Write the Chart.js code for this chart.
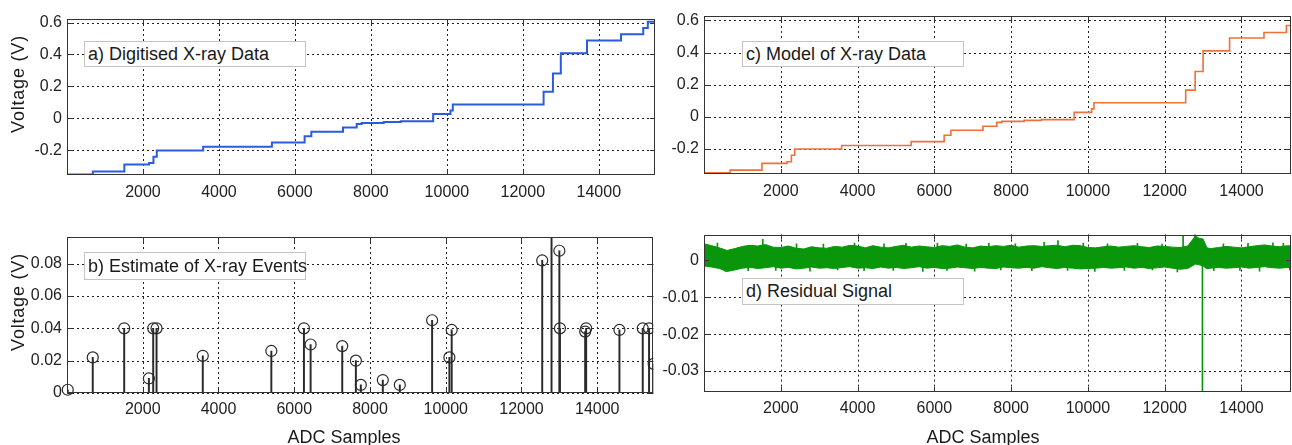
<!DOCTYPE html>
<html><head><meta charset="utf-8">
<script src="https://cdn.jsdelivr.net/npm/chart.js@4.4.0/dist/chart.umd.min.js"></script>
<style>
html,body{margin:0;padding:0;background:#fff;overflow:hidden;width:1292px;height:445px;position:relative;}
canvas{position:absolute;}
.t{position:absolute;font-family:'Liberation Sans',Arial,sans-serif;color:#1a1a1a;white-space:nowrap;font-size:18px;line-height:20px;}
.vt{transform:translate(-50%,-50%) rotate(-90deg);letter-spacing:0.8px;}
.ht{transform:translate(-50%,-50%);}
.box{position:absolute;border:1px solid #c4c4c4;background:#fff;font-family:'Liberation Sans',Arial,sans-serif;font-size:18px;color:#1a1a1a;box-sizing:border-box;padding-left:3px;white-space:nowrap;}
</style></head><body>
<canvas id="ca"></canvas>
<canvas id="cb"></canvas>
<canvas id="cc"></canvas>
<canvas id="cd"></canvas>
<div class="t vt" style="left:18px;top:84px;">Voltage (V)</div>
<div class="t vt" style="left:18px;top:302px;">Voltage (V)</div>
<div class="t ht" style="left:344px;top:437px;">ADC Samples</div>
<div class="t ht" style="left:983px;top:437px;">ADC Samples</div>
<div class="box" style="left:84px;top:41px;width:222px;height:26px;line-height:24px;">a) Digitised X-ray Data</div>
<div class="box" style="left:84px;top:252px;width:222px;height:28px;line-height:26px;">b) Estimate of X-ray Events</div>
<div class="box" style="left:742px;top:41px;width:222px;height:26px;line-height:24px;">c) Model of X-ray Data</div>
<div class="box" style="left:742px;top:278px;width:222px;height:27px;line-height:25px;">d) Residual Signal</div>
<script>
// ---------- data ----------
const xTicks = [2000, 4000, 6000, 8000, 10000, 12000, 14000];
const yTicksVolt = [-0.2, 0, 0.2, 0.4, 0.6];
const yTicksEvents = [0, 0.02, 0.04, 0.06, 0.08];
const yTicksResidual = [-0.03, -0.02, -0.01, 0];

// staircase (value holds from stepX[i] onwards)
const stepX      = [0, 680, 1510, 2160, 2276, 2364, 3585, 5395, 6256, 6432, 7267, 7627, 7758, 8338, 8787, 9640, 10096, 10157, 12547, 12793, 13000, 13690, 14586, 15170, 15290, 15480, 15500];
const digitisedY = [-0.352, -0.333, -0.290, -0.280, -0.240, -0.202, -0.178, -0.152, -0.113, -0.084, -0.057, -0.036, -0.030, -0.023, -0.018, 0.027, 0.049, 0.086, 0.166, 0.280, 0.408, 0.488, 0.527, 0.566, 0.604, 0.620, 0.620];
const modelY     = [-0.348, -0.331, -0.289, -0.279, -0.238, -0.200, -0.178, -0.154, -0.114, -0.083, -0.058, -0.034, -0.028, -0.022, -0.017, 0.028, 0.050, 0.088, 0.166, 0.282, 0.410, 0.490, 0.524, 0.568, 0.604, 0.622, 0.622];

// estimated events (stem plot)
const eventX = [20, 680, 1510, 2162, 2276, 2364, 3585, 5395, 6256, 6432, 7267, 7627, 7758, 8338, 8787, 9640, 10096, 10157, 12547, 12793, 13000, 13015, 13681, 13707, 14586, 15201, 15368, 15490];
const eventY = [0.002, 0.022, 0.040, 0.009, 0.040, 0.040, 0.023, 0.026, 0.040, 0.030, 0.029, 0.020, 0.005, 0.008, 0.005, 0.045, 0.022, 0.039, 0.082, 0.115, 0.088, 0.040, 0.038, 0.040, 0.039, 0.040, 0.040, 0.018];

// residual envelope
const resX = [0,200,400,600,800,1000,1200,1400,1600,1800,2000,2200,2400,2600,2800,3000,3200,3400,3600,3800,4000,4200,4400,4600,4800,5000,5200,5400,5600,5800,6000,6200,6400,6600,6800,7000,7200,7400,7600,7800,8000,8200,8400,8600,8800,9000,9200,9400,9600,9800,10000,10200,10400,10600,10800,11000,11200,11400,11600,11800,12000,12200,12400,12600,12800,12900,13000,13100,13200,13400,13600,13800,14000,14200,14400,14600,14800,15000,15200,15400,15500];
const resUpper = [0.0045,0.0040,0.0034,0.0027,0.0032,0.0038,0.0041,0.0039,0.0043,0.0036,0.0035,0.0039,0.0033,0.0031,0.0037,0.0034,0.0033,0.0038,0.0036,0.0041,0.0039,0.0034,0.0040,0.0036,0.0034,0.0038,0.0041,0.0036,0.0039,0.0037,0.0035,0.0040,0.0038,0.0042,0.0036,0.0034,0.0039,0.0037,0.0040,0.0038,0.0041,0.0036,0.0039,0.0040,0.0038,0.0040,0.0041,0.0037,0.0041,0.0040,0.0035,0.0034,0.0037,0.0039,0.0036,0.0038,0.0040,0.0037,0.0035,0.0039,0.0038,0.0036,0.0035,0.0039,0.0066,0.0060,0.0058,0.0034,0.0032,0.0035,0.0038,0.0036,0.0034,0.0037,0.0040,0.0042,0.0039,0.0037,0.0040,0.0038,0.0037];
const resLower = [-0.0015,-0.0018,-0.0022,-0.0030,-0.0026,-0.0021,-0.0019,-0.0022,-0.0020,-0.0017,-0.0021,-0.0019,-0.0023,-0.0021,-0.0018,-0.0021,-0.0020,-0.0022,-0.0019,-0.0017,-0.0021,-0.0020,-0.0022,-0.0018,-0.0021,-0.0019,-0.0022,-0.0020,-0.0017,-0.0021,-0.0019,-0.0022,-0.0021,-0.0018,-0.0020,-0.0022,-0.0019,-0.0021,-0.0022,-0.0018,-0.0020,-0.0021,-0.0019,-0.0021,-0.0017,-0.0020,-0.0022,-0.0019,-0.0021,-0.0023,-0.0022,-0.0021,-0.0019,-0.0021,-0.0020,-0.0018,-0.0021,-0.0019,-0.0022,-0.0020,-0.0018,-0.0021,-0.0024,-0.0022,-0.0010,-0.0012,-0.0015,-0.0023,-0.0021,-0.0019,-0.0021,-0.0020,-0.0018,-0.0021,-0.0019,-0.0017,-0.0020,-0.0021,-0.0019,-0.0021,-0.0020];
// isolated spikes sticking out of the residual band
const spikeX    = [350, 560, 1150, 1530, 1870, 2410, 2760, 3110, 3480, 3920, 4170, 4690, 4930, 5260, 5700, 6080, 6330, 6830, 7050, 7420, 7730, 8110, 8540, 8860, 9220, 9470, 9880, 10180, 10510, 10950, 11290, 11680, 11930, 12330, 12480, 12790, 12983, 13280, 13530, 13960, 14170, 14470, 14820, 15090, 15260];
const spikeLow  = [0.002, -0.0030, -0.0028, 0.002, -0.0027, 0.002, -0.0029, 0.002, -0.0026, 0.002, -0.0028, 0.002, -0.0027, 0.002, -0.0030, 0.002, -0.0027, 0.002, -0.0029, 0.002, -0.0026, 0.002, -0.0028, 0.002, 0.002, -0.0027, 0.002, -0.0030, 0.002, -0.0027, 0.002, -0.0026, 0.002, -0.0031, 0.002, 0.002, -0.0400, -0.0028, 0.002, -0.0027, 0.002, -0.0029, 0.002, 0.002, -0.0026];
const spikeHigh = [0.0047, 0.000, 0.000, 0.0057, 0.000, 0.0045, 0.000, 0.0044, 0.000, 0.0047, 0.000, 0.0045, 0.000, 0.0046, 0.000, 0.0047, 0.000, 0.0044, 0.000, 0.0046, 0.000, 0.0045, 0.000, 0.0049, 0.0054, 0.000, 0.0047, 0.000, 0.0045, 0.000, 0.0046, 0.000, 0.0044, 0.000, 0.0068, 0.0080, 0.0040, 0.000, 0.0045, 0.000, 0.0046, 0.000, 0.0048, 0.0046, 0.000];

// ---------- setup ----------
Chart.defaults.font.family = "'Liberation Sans', Arial, sans-serif";
Chart.defaults.color = '#222';
Chart.defaults.animation = false;

const gridPlugin = {
  id: 'dotgrid',
  beforeDatasetsDraw(chart) {
    const {ctx, chartArea: a, scales: {x, y}} = chart;
    ctx.save();
    ctx.strokeStyle = '#222';
    ctx.lineWidth = 1;
    ctx.setLineDash([2, 3]);
    ctx.beginPath();
    x.ticks.forEach(t => {
      const px = Math.round(x.getPixelForValue(t.value)) + 0.5;
      ctx.moveTo(px, a.top); ctx.lineTo(px, a.bottom);
    });
    y.ticks.forEach(t => {
      const py = Math.round(y.getPixelForValue(t.value)) + 0.5;
      ctx.moveTo(a.left, py); ctx.lineTo(a.right, py);
    });
    ctx.stroke();
    ctx.restore();
  }
};

const framePlugin = {
  id: 'frame',
  afterDatasetsDraw(chart) {
    const {ctx, chartArea: a, scales: {x, y}} = chart;
    ctx.save();
    ctx.strokeStyle = '#333';
    ctx.lineWidth = 1;
    ctx.setLineDash([]);
    ctx.beginPath();
    x.ticks.forEach(t => {
      const px = Math.round(x.getPixelForValue(t.value)) + 0.5;
      ctx.moveTo(px, a.bottom); ctx.lineTo(px, a.bottom - 5);
      ctx.moveTo(px, a.top); ctx.lineTo(px, a.top + 5);
    });
    y.ticks.forEach(t => {
      const py = Math.round(y.getPixelForValue(t.value)) + 0.5;
      ctx.moveTo(a.left, py); ctx.lineTo(a.left + 5, py);
      ctx.moveTo(a.right, py); ctx.lineTo(a.right - 5, py);
    });
    ctx.stroke();
    ctx.strokeRect(Math.round(a.left) + 0.5, Math.round(a.top) + 0.5, Math.round(a.right - a.left) - 1, Math.round(a.bottom - a.top) - 1);
    ctx.restore();
  }
};

function setupCanvas(id, L, T, W, H) {
  const c = document.getElementById(id);
  c.width = W; c.height = H;
  c.style.left = L + 'px'; c.style.top = T + 'px';
  c.style.width = W + 'px'; c.style.height = H + 'px';
  return c;
}

function scalesFor(p, xmax, ymin, ymax, yTickArr, xPad) {
  return {
    x: {
      type: 'linear', min: 0, max: xmax, offset: false,
      grid: {display: false, offset: false, drawTicks: false},
      border: {display: false},
      afterBuildTicks: s => { s.ticks = xTicks.map(v => ({value: v})); },
      afterFit: s => { s.height = p.xH; },
      ticks: {font: {size: 16}, color: '#222', padding: xPad, maxRotation: 0, autoSkip: false, callback: v => String(v)}
    },
    y: {
      type: 'linear', min: ymin, max: ymax,
      grid: {display: false, drawTicks: false},
      border: {display: false},
      afterBuildTicks: s => { s.ticks = yTickArr.map(v => ({value: v})); },
      afterFit: s => { s.width = p.yW; },
      ticks: {font: {size: 16}, color: '#222', padding: 5, autoSkip: false, callback: v => String(v)}
    }
  };
}

function panel(L, T, W, H, pl, pt, pr, pb) {
  return {L, T, W, H, yW: pl - L, xH: T + H - pb, padTop: pt - T, padRight: L + W - pr};
}

const commonOpts = p => ({
  responsive: false, animation: false, devicePixelRatio: 1,
  layout: {padding: {left: 0, top: p.padTop, right: p.padRight, bottom: 0}},
  plugins: {legend: {display: false}, tooltip: {enabled: false}}
});

// ---- panel a ----
const pa = panel(0, 0, 660, 215, 67, 19, 655, 175);
setupCanvas('ca', pa.L, pa.T, pa.W, pa.H);
new Chart(document.getElementById('ca'), {
  type: 'line',
  data: {datasets: [{
    data: stepX.map((x, i) => ({x, y: digitisedY[i]})),
    borderColor: '#2a5ce0', borderWidth: 2, pointRadius: 0, stepped: true, fill: false
  }]},
  options: Object.assign(commonOpts(pa), {scales: scalesFor(pa, 15480, -0.355, 0.622, yTicksVolt, 8)}),
  plugins: [gridPlugin, framePlugin]
});

// ---- panel b ----
const pb = panel(0, 220, 660, 225, 67, 237, 655, 393);
setupCanvas('cb', pb.L, pb.T, pb.W, pb.H);
const evData = eventX.map((x, i) => ({x, y: eventY[i]}));
new Chart(document.getElementById('cb'), {
  type: 'bar',
  data: {datasets: [
    {type: 'bar', data: evData, backgroundColor: '#2a2a2a', barThickness: 1.3, order: 2},
    {type: 'line', data: evData, showLine: false, pointRadius: 5.5, pointBorderWidth: 1.2,
     pointBorderColor: '#2a2a2a', pointBackgroundColor: 'rgba(0,0,0,0)', clip: {left: 8, top: 0, right: 0, bottom: 8}, order: 1}
  ]},
  options: Object.assign(commonOpts(pb), {scales: scalesFor(pb, 15480, 0, 0.0965, yTicksEvents, 7)}),
  plugins: [gridPlugin, framePlugin]
});

// ---- panel c ----
const pc = panel(660, 0, 640, 215, 704, 16, 1291, 174);
setupCanvas('cc', pc.L, pc.T, pc.W, pc.H);
new Chart(document.getElementById('cc'), {
  type: 'line',
  data: {datasets: [{
    data: stepX.map((x, i) => ({x, y: modelY[i]})),
    borderColor: '#f0703a', borderWidth: 1.6, pointRadius: 0, stepped: true, fill: false
  }]},
  options: Object.assign(commonOpts(pc), {scales: scalesFor(pc, 15290, -0.355, 0.627, yTicksVolt, 8)}),
  plugins: [gridPlugin, framePlugin]
});

// ---- panel d ----
const pd = panel(660, 220, 640, 225, 704, 234, 1291, 392);
setupCanvas('cd', pd.L, pd.T, pd.W, pd.H);
new Chart(document.getElementById('cd'), {
  type: 'bar',
  data: {datasets: [
    {type: 'line', data: resX.map((x, i) => ({x, y: resUpper[i]})), borderColor: '#0a960a', borderWidth: 1,
     backgroundColor: '#0a960a', pointRadius: 0, fill: '+1', tension: 0, order: 1},
    {type: 'line', data: resX.map((x, i) => ({x, y: resLower[i]})), borderColor: '#0a960a', borderWidth: 1,
     pointRadius: 0, fill: false, tension: 0, order: 1},
    {type: 'bar', data: spikeX.map((x, i) => ({x, y: [spikeLow[i], spikeHigh[i]]})), backgroundColor: '#0a960a', barThickness: 1, order: 0}
  ]},
  options: Object.assign(commonOpts(pd), {scales: scalesFor(pd, 15290, -0.0357, 0.007, yTicksResidual, 7)}),
  plugins: [gridPlugin, framePlugin]
});
</script>
</body></html>
